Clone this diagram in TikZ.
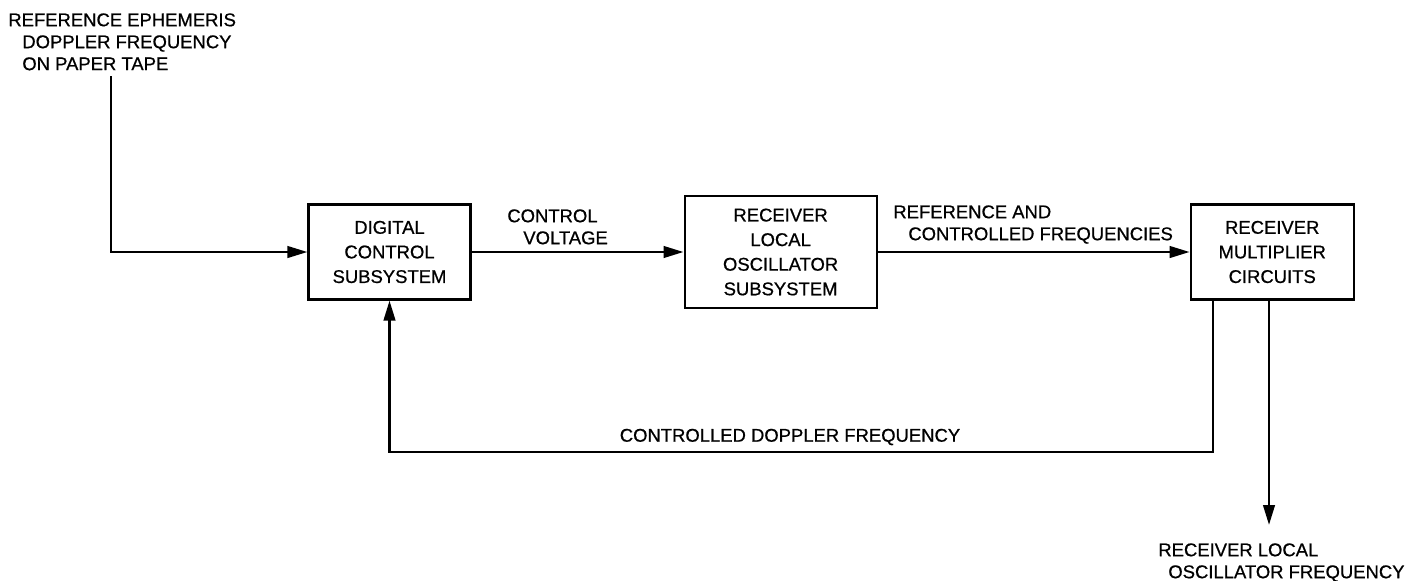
\documentclass[tikz,border=0pt]{standalone}
\usepackage{fontspec}
\setmainfont{Liberation Sans}[FakeBold=0.7]
\usetikzlibrary{arrows.meta,positioning}

\begin{document}
\begin{tikzpicture}[
    font=\fontsize{10.5}{12.5}\selectfont,
    box/.style={draw=black, line width=1.2pt, align=center, inner sep=0pt, font=\fontsize{10.5}{14}\selectfont},
    arr/.style={-{Triangle[length=4mm, width=2.3mm]}, line width=1.5pt},
    lbl/.style={align=left, inner sep=0pt, anchor=north west}
]
\useasboundingbox (0,0) rectangle (28.52,-11.6);

\node[box, minimum width=32.4mm, minimum height=19mm] (dcs) at (7.79,-5.04) {DIGITAL\\CONTROL\\SUBSYSTEM};
\node[box, minimum width=38.4mm, minimum height=22.4mm, right=42.4mm of dcs] (rlo) {RECEIVER\\LOCAL\\OSCILLATOR\\SUBSYSTEM};
\node[box, minimum width=32.6mm, minimum height=19mm, right=62.4mm of rlo] (rmc) {RECEIVER\\MULTIPLIER\\CIRCUITS};

% input from tape
\node[lbl] (ephem) at (0.16,-0.26) {REFERENCE EPHEMERIS\\\hspace{2.8mm}DOPPLER FREQUENCY\\\hspace{2.8mm}ON PAPER TAPE};
\coordinate (tapeend) at (2.22,-1.52);
\draw[arr] (tapeend) |- (dcs.west);

% forward chain
\draw[arr] (dcs.east) -- (rlo.west);
\node[lbl] (cv) at (10.14,-4.18) {CONTROL\\\hspace{3.2mm}VOLTAGE};
\draw[arr] (rlo.east) -- (rmc.west);
\node[lbl] (refc) at (17.86,-4.1) {REFERENCE AND\\\hspace{3mm}CONTROLLED FREQUENCIES};

% feedback loop
\coordinate (fbcorner) at (24.26,-9.04);
\draw[arr] (fbcorner |- rmc.south) -- (fbcorner) -| (dcs.south);
\node (cdf) at (15.8,-8.74) {CONTROLLED DOPPLER FREQUENCY};

% output
\coordinate (outtip) at (25.38,-10.5);
\draw[arr] (outtip |- rmc.south) -- (outtip);
\node[lbl] (rlof) at (23.16,-10.86) {RECEIVER LOCAL\\\hspace{2mm}OSCILLATOR FREQUENCY};

\end{tikzpicture}
\end{document}
